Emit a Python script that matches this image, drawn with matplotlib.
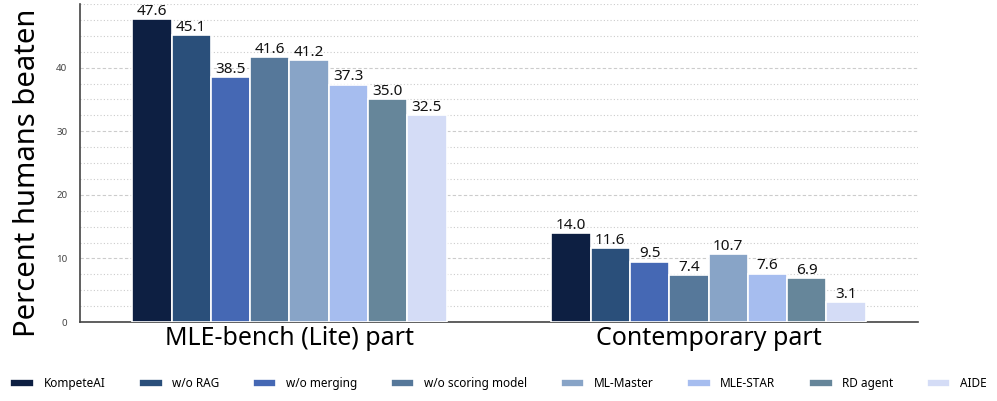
import matplotlib
matplotlib.use("Agg")
import matplotlib.pyplot as plt
import numpy as np
from matplotlib.ticker import MultipleLocator

groups = ["MLE-bench (Lite) part", "Contemporary part"]
methods = ["KompeteAI", "w/o RAG", "w/o merging", "w/o scoring model",
           "ML-Master", "MLE-STAR", "RD agent", "AIDE"]
values = {
    "KompeteAI": [47.6, 14.0],
    "w/o RAG": [45.1, 11.6],
    "w/o merging": [38.5, 9.5],
    "w/o scoring model": [41.6, 7.4],
    "ML-Master": [41.2, 10.7],
    "MLE-STAR": [37.3, 7.6],
    "RD agent": [35.0, 6.9],
    "AIDE": [32.5, 3.1],
}
colors = ["#0d1f42", "#2a4f7a", "#4568b4", "#56789a",
          "#88a4c7", "#a6bdef", "#66869a", "#d4dcf6"]

plt.rcParams['font.family'] = ['Noto Sans', 'DejaVu Sans']

fig = plt.figure(figsize=(9.97, 4.01), dpi=100)
ax = fig.add_axes([0.0802, 0.197, 0.8406, 0.793])

x = np.arange(len(groups))
w = 0.75 / len(methods)
for i, (m, c) in enumerate(zip(methods, colors)):
    pos = x - 0.375 + w * (i + 0.5)
    bars = ax.bar(pos, values[m], width=w, color=c, edgecolor="white",
                  linewidth=1.2, label=m, zorder=3)
    for b, v in zip(bars, values[m]):
        ax.text(b.get_x() + b.get_width() / 2, v + 0.05, f"{v:.1f}",
                ha="center", va="bottom", fontsize=11, color="#111111", zorder=4)

ax.set_xlim(-0.5, 1.5)
ax.set_ylim(0, 50)
ax.set_xticks(x)
ax.set_xticklabels(groups, fontsize=18)
ax.tick_params(axis='x', length=0, pad=3)
ax.yaxis.set_minor_locator(MultipleLocator(2.5))
ax.set_yticks([0, 10, 20, 30, 40])
ax.tick_params(axis='y', which='both', length=0, labelsize=7, labelcolor="#444444", pad=9)
ax.grid(axis='y', which='major', linestyle=(0, (3, 2)), color="#cccccc", linewidth=0.8, zorder=0)
ax.grid(axis='y', which='minor', linestyle=(0, (1, 2)), color="#cccccc", linewidth=0.8, zorder=0)
ax.set_ylabel("Percent humans beaten", fontsize=21)
ax.yaxis.set_label_coords(-0.045, 0.47)
for s in ["top", "right"]:
    ax.spines[s].set_visible(False)
for s in ["left", "bottom"]:
    ax.spines[s].set_color("#444444")
    ax.spines[s].set_linewidth(1.2)

fig.legend(loc="lower center", ncol=8, frameon=False, fontsize=8.5,
           bbox_to_anchor=(0.5, 0.0), handlelength=2.0, handleheight=0.6,
           columnspacing=2.85, borderaxespad=0.5)

fig.savefig("out.png", dpi=100)
